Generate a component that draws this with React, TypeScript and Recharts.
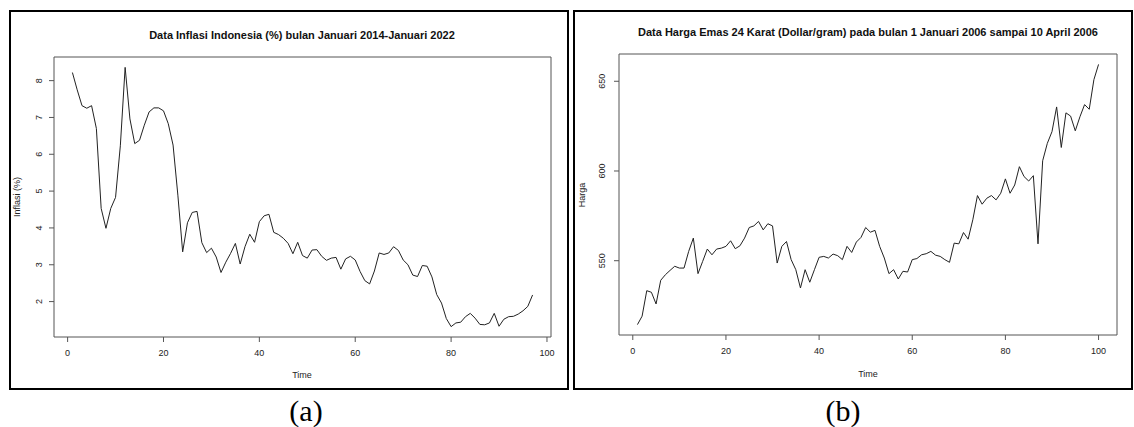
import React from 'react';
import { LineChart, Line, XAxis, YAxis, ReferenceArea } from 'recharts';

// ---------- Data (a): Indonesian inflation (%) Jan 2014 - Jan 2022 ----------
const inflasiValues = [
  8.22, 7.75, 7.32, 7.25, 7.32, 6.7, 4.53, 3.99, 4.53, 4.83, 6.23, 8.36,
  6.96, 6.29, 6.38, 6.79, 7.15, 7.26, 7.26, 7.18, 6.83, 6.25, 4.89, 3.35,
  4.14, 4.42, 4.45, 3.6, 3.33, 3.45, 3.21, 2.79, 3.07, 3.31, 3.58, 3.02,
  3.49, 3.83, 3.61, 4.17, 4.33, 4.37, 3.88, 3.82, 3.72, 3.58, 3.3, 3.61,
  3.25, 3.18, 3.4, 3.41, 3.23, 3.12, 3.18, 3.2, 2.88, 3.16, 3.23, 3.13,
  2.82, 2.57, 2.48, 2.83, 3.32, 3.28, 3.32, 3.49, 3.39, 3.13, 3.0, 2.72,
  2.68, 2.98, 2.96, 2.67, 2.19, 1.96, 1.54, 1.32, 1.42, 1.44, 1.59, 1.68,
  1.55, 1.38, 1.37, 1.42, 1.68, 1.33, 1.52, 1.59, 1.6, 1.66, 1.75, 1.87,
  2.18,
];
const inflasiXTicks = [0, 20, 40, 60, 80, 100];
const inflasiYTicks = [2, 3, 4, 5, 6, 7, 8];

// ---------- Data (b): Gold price 24K (Dollar/gram) ----------
const hargaValues = [
  514.4, 519.1, 533.3, 532.4, 525.9, 539.1, 542.2, 544.6, 546.9, 545.9,
  545.9, 555.2, 562.6, 542.8, 549.6, 556.5, 553.3, 556.5, 557.0, 558.0,
  561.1, 556.7, 558.3, 562.6, 568.5, 569.4, 571.9, 567.2, 570.6, 569.4,
  548.7, 558.0, 560.7, 550.6, 545.0, 534.8, 545.0, 538.0, 545.0, 551.9,
  552.4, 551.5, 553.7, 552.8, 550.6, 558.0, 554.6, 560.4, 563.0, 568.5,
  565.9, 566.9, 558.0, 551.5, 542.8, 545.0, 539.8, 544.1, 543.7, 550.6,
  551.2, 553.3, 553.9, 555.2, 553.1, 552.4, 550.6, 549.1, 559.8, 559.4,
  565.7, 562.0, 572.8, 586.3, 581.5, 584.8, 586.3, 583.9, 587.6, 595.6,
  587.6, 592.2, 602.4, 596.9, 594.4, 597.4, 559.4, 605.7, 615.4, 621.9,
  635.7, 613.1, 632.4, 630.6, 622.4, 630.2, 637.0, 634.4, 650.9, 659.4,
];
const hargaXTicks = [0, 20, 40, 60, 80, 100];
const hargaYTicks = [550, 600, 650];

const inflasiData = inflasiValues.map((v, i) => ({ t: i + 1, v }));
const hargaData = hargaValues.map((v, i) => ({ t: i + 1, v }));

const FONT = '"Liberation Sans", Arial, Helvetica, sans-serif';
const SERIF = '"Liberation Serif", "Times New Roman", serif';
const TEXT = '#222';
const BOX = '#555';

const RotTick = (props: any) => {
  const { x, y, payload, off } = props;
  const cx = x - off;
  return (
    <text
      x={cx}
      y={y}
      transform={`rotate(-90 ${cx} ${y})`}
      textAnchor="middle"
      dominantBaseline="central"
      fontSize={9}
      fontFamily={FONT}
      fill={TEXT}
    >
      {payload.value}
    </text>
  );
};

const XTick = (props: any) => {
  const { x, y, payload } = props;
  return (
    <text x={x} y={y} dy="0.71em" textAnchor="middle" fontSize={9} fontFamily={FONT} fill={TEXT}>
      {payload.value}
    </text>
  );
};

export default function App() {
  return (
    <div
      style={{
        position: 'absolute',
        left: 0,
        top: 0,
        width: 1134,
        height: 427,
        background: '#fff',
        overflow: 'hidden',
      }}
    >
      {/* Panel borders */}
      <div
        style={{
          position: 'absolute',
          left: 9,
          top: 10,
          width: 556,
          height: 376,
          border: '2px solid #000',
        }}
      />
      <div
        style={{
          position: 'absolute',
          left: 573,
          top: 10,
          width: 556,
          height: 376,
          border: '2px solid #000',
        }}
      />

      {/* Chart (a) */}
      <div style={{ position: 'absolute', left: 0, top: 0 }}>
        <LineChart
          width={570}
          height={395}
          data={inflasiData}
          margin={{ top: 57, right: 19, bottom: 18, left: 0 }}
        >
          <XAxis
            dataKey="t"
            type="number"
            domain={[-2.84, 100.84]}
            ticks={inflasiXTicks}
            allowDataOverflow
            axisLine={false}
            tickLine={{ stroke: BOX }}
            tickSize={5}
            tickMargin={8}
            height={40}
            tick={<XTick />}
            interval={0}
          />
          <YAxis
            dataKey="v"
            type="number"
            domain={[1.0384, 8.6416]}
            ticks={inflasiYTicks}
            allowDataOverflow
            axisLine={false}
            tickLine={{ stroke: BOX }}
            tickSize={5}
            tickMargin={0}
            width={54}
            tick={<RotTick off={10} />}
            interval={0}
          />
          <ReferenceArea
            x1={-2.84}
            x2={100.84}
            y1={1.0384}
            y2={8.6416}
            fill="none"
            stroke={BOX}
            strokeWidth={1}
            fillOpacity={0}
          />
          <Line
            dataKey="v"
            type="linear"
            stroke="#222"
            strokeWidth={1}
            dot={false}
            isAnimationActive={false}
          />
        </LineChart>
      </div>

      {/* Chart (b) */}
      <div style={{ position: 'absolute', left: 570, top: 0 }}>
        <LineChart
          width={564}
          height={395}
          data={hargaData}
          margin={{ top: 54, right: 17, bottom: 19, left: 0 }}
        >
          <XAxis
            dataKey="t"
            type="number"
            domain={[-2.96, 103.96]}
            ticks={hargaXTicks}
            allowDataOverflow
            axisLine={false}
            tickLine={{ stroke: BOX }}
            tickSize={5}
            tickMargin={8}
            height={41}
            tick={<XTick />}
            interval={0}
          />
          <YAxis
            dataKey="v"
            type="number"
            domain={[508.6, 665.2]}
            ticks={hargaYTicks}
            allowDataOverflow
            axisLine={false}
            tickLine={{ stroke: BOX }}
            tickSize={5}
            tickMargin={0}
            width={49}
            tick={<RotTick off={12} />}
            interval={0}
          />
          <ReferenceArea
            x1={-2.96}
            x2={103.96}
            y1={508.6}
            y2={665.2}
            fill="none"
            stroke={BOX}
            strokeWidth={1}
            fillOpacity={0}
          />
          <Line
            dataKey="v"
            type="linear"
            stroke="#222"
            strokeWidth={1}
            dot={false}
            isAnimationActive={false}
          />
        </LineChart>
      </div>

      {/* Titles, axis titles and captions */}
      <svg
        width={1134}
        height={427}
        style={{ position: 'absolute', left: 0, top: 0, pointerEvents: 'none' }}
      >
        <text x={302} y={35} textAnchor="middle" dominantBaseline="central" fontSize={11} fontWeight="bold" fontFamily={FONT} fill="#111">
          Data Inflasi Indonesia (%) bulan Januari 2014-Januari 2022
        </text>
        <text x={868} y={32} textAnchor="middle" dominantBaseline="central" fontSize={11} fontWeight="bold" fontFamily={FONT} fill="#111">
          Data Harga Emas 24 Karat (Dollar/gram) pada bulan 1 Januari 2006 sampai 10 April 2006
        </text>
        <text x={302} y={375} textAnchor="middle" dominantBaseline="central" fontSize={9} fontFamily={FONT} fill={TEXT}>
          Time
        </text>
        <text x={868} y={374} textAnchor="middle" dominantBaseline="central" fontSize={9} fontFamily={FONT} fill={TEXT}>
          Time
        </text>
        <text x={17} y={197} transform="rotate(-90 17 197)" textAnchor="middle" dominantBaseline="central" fontSize={9} fontFamily={FONT} fill={TEXT}>
          Inflasi (%)
        </text>
        <text x={582} y={195} transform="rotate(-90 582 195)" textAnchor="middle" dominantBaseline="central" fontSize={9} fontFamily={FONT} fill={TEXT}>
          Harga
        </text>
        <text x={306} y={410} textAnchor="middle" dominantBaseline="central" fontSize={30} fontFamily={SERIF} fill="#000">
          (a)
        </text>
        <text x={843} y={410} textAnchor="middle" dominantBaseline="central" fontSize={30} fontFamily={SERIF} fill="#000">
          (b)
        </text>
      </svg>
    </div>
  );
}
